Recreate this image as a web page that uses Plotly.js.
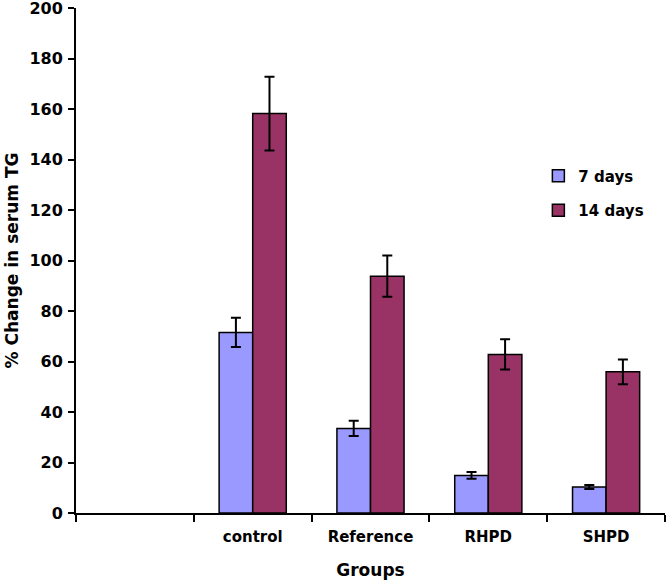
<!DOCTYPE html>
<html>
<head>
<meta charset="utf-8">
<script src="https://cdn.plot.ly/plotly-3.0.1.min.js"></script>
<style>html,body{margin:0;padding:0;background:#fff;}#chart{width:667px;height:580px;}</style>
</head>
<body>
<div id="chart"></div>
<script>
const categories = [" ", "control", "Reference", "RHPD", "SHPD"];
const groups = ["control", "Reference", "RHPD", "SHPD"];
const days7 = [71.5, 33.5, 14.9, 10.3];
const days7Err = [5.8, 3.0, 1.3, 0.8];
const days14 = [158.2, 93.8, 62.8, 55.9];
const days14Err = [14.6, 8.2, 6.0, 4.9];
const yTicks = [0, 20, 40, 60, 80, 100, 120, 140, 160, 180, 200];

const fontFam = "DejaVu Sans, Arial, sans-serif";

const traces = [
  {
    type: "bar", name: "7 days", x: groups, y: days7,
    marker: {color: "#9999FF", line: {color: "#000", width: 1.5}},
    error_y: {type: "data", array: days7Err, visible: true, color: "#000", thickness: 2, width: 5},
    legendgroup: "a"
  },
  {
    type: "bar", name: "14 days", x: groups, y: days14,
    marker: {color: "#993366", line: {color: "#000", width: 1.5}},
    error_y: {type: "data", array: days14Err, visible: true, color: "#000", thickness: 2, width: 5},
    legendgroup: "b"
  }
];

const layout = {
  width: 667, height: 580,
  margin: {l: 76, r: 2, t: 8, b: 67},
  paper_bgcolor: "#fff", plot_bgcolor: "#fff",
  barmode: "group", bargap: 0.43, bargroupgap: 0,
  font: {family: fontFam, color: "#000", size: 15, weight: "bold"},
  showlegend: true,
  legend: {x: 0.785, y: 0.70, xanchor: "left", yanchor: "top", bgcolor: "rgba(0,0,0,0)",
           font: {size: 15, family: fontFam, weight: "bold"}, traceorder: "grouped", tracegroupgap: 12},
  xaxis: {
    type: "category", categoryorder: "array", categoryarray: categories,
    range: [-0.5, 4.5],
    showline: true, linecolor: "#000", linewidth: 2,
    ticks: "outside", tickson: "boundaries", ticklen: 7, tickwidth: 2, tickcolor: "#000",
    ticklabelstandoff: 9,
    tickfont: {size: 15, family: fontFam, weight: "bold"},
    showgrid: false, zeroline: false,
    title: {text: "Groups", font: {size: 17, family: fontFam, weight: "bold"}, standoff: 20}
  },
  yaxis: {
    range: [0, 200], tickvals: yTicks, ticktext: yTicks.map(String),
    showline: true, linecolor: "#000", linewidth: 2,
    ticks: "outside", ticklen: 6, tickwidth: 2, tickcolor: "#000",
    ticklabelstandoff: 2, ticklabeloverflow: "allow",
    tickfont: {size: 16, family: fontFam, weight: "bold"},
    showgrid: false, zeroline: false,
    title: {text: "% Change in serum TG", font: {size: 17, family: fontFam, weight: "bold"}, standoff: 6}
  }
};

Plotly.newPlot("chart", traces, layout, {displayModeBar: false, staticPlot: true});
</script>
</body>
</html>
